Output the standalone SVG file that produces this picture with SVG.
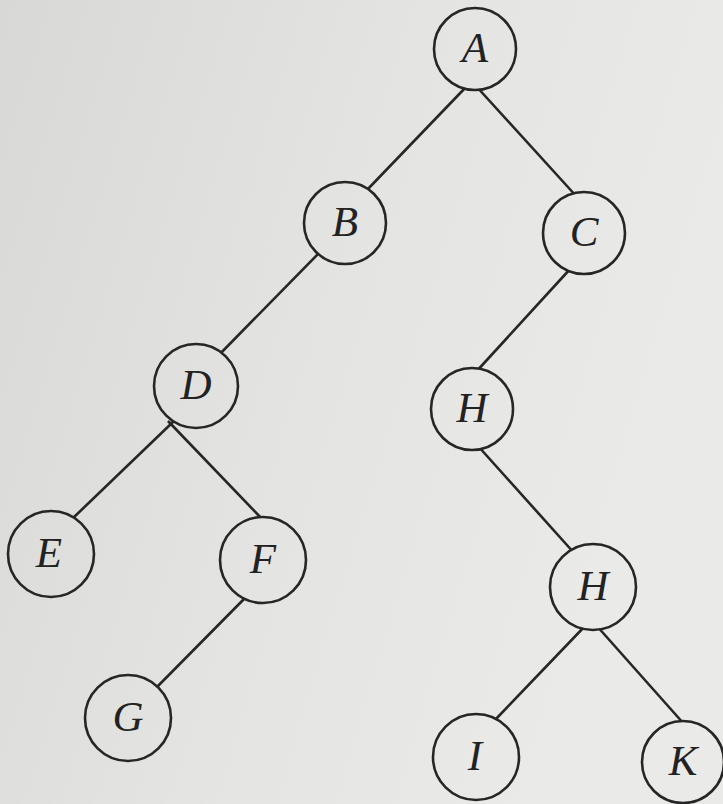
<svg xmlns="http://www.w3.org/2000/svg" width="723" height="804" viewBox="0 0 723 804">
<defs>
<linearGradient id="bg" gradientUnits="userSpaceOnUse" x1="0" y1="0" x2="723" y2="220">
<stop offset="0" stop-color="#d8d8d6"/>
<stop offset="0.55" stop-color="#e4e4e2"/>
<stop offset="1" stop-color="#eaeae8"/>
</linearGradient>
<style>
.edge{stroke:#262626;stroke-width:2.6;fill:none}
.node circle{fill:url(#bg);stroke:#262626;stroke-width:2.6}
.node text{font-family:"Liberation Serif","DejaVu Serif",serif;font-style:italic;font-size:43px;fill:#222;text-anchor:middle}
</style>
</defs>
<rect width="723" height="804" fill="url(#bg)"/>
<g id="connectors">
<line class="edge" x1="467" y1="86" x2="366" y2="191"/>
<line class="edge" x1="476" y1="86" x2="577" y2="197"/>
<line class="edge" x1="319" y1="253" x2="215" y2="359"/>
<line class="edge" x1="571" y1="268" x2="475" y2="373"/>
<line class="edge" x1="174" y1="421" x2="72" y2="519"/>
<line class="edge" x1="168" y1="421" x2="264" y2="521"/>
<line class="edge" x1="247" y1="596" x2="155" y2="689"/>
<line class="edge" x1="478" y1="446" x2="575" y2="554"/>
<line class="edge" x1="586" y1="625" x2="494" y2="721"/>
<line class="edge" x1="596" y1="625" x2="684" y2="724"/>
</g>
<g id="node-A" class="node"><circle cx="475" cy="49" r="41"/><text x="475" y="62">A</text></g>
<g id="node-B" class="node"><circle cx="345" cy="223" r="41"/><text x="345" y="236">B</text></g>
<g id="node-C" class="node"><circle cx="584" cy="233" r="41"/><text x="584" y="246">C</text></g>
<g id="node-D" class="node"><circle cx="196" cy="386" r="42"/><text x="196" y="399">D</text></g>
<g id="node-H1" class="node"><circle cx="472" cy="409" r="41"/><text x="472" y="422">H</text></g>
<g id="node-E" class="node"><circle cx="51" cy="554" r="43"/><text x="49" y="567">E</text></g>
<g id="node-F" class="node"><circle cx="263" cy="560" r="43"/><text x="263" y="573">F</text></g>
<g id="node-H2" class="node"><circle cx="593" cy="587" r="43"/><text x="593" y="600">H</text></g>
<g id="node-G" class="node"><circle cx="128" cy="718" r="43"/><text x="128" y="731">G</text></g>
<g id="node-I" class="node"><circle cx="476" cy="757" r="43"/><text x="475" y="770">I</text></g>
<g id="node-K" class="node"><circle cx="683" cy="762" r="41"/><text x="683" y="775">K</text></g>
</svg>
